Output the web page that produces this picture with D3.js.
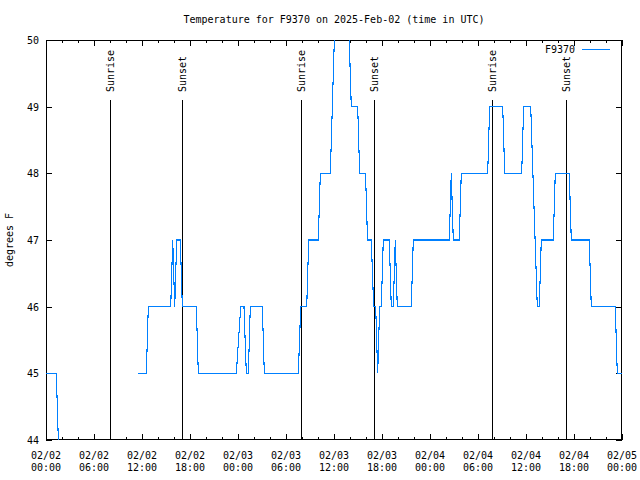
<!DOCTYPE html>
<html><head><meta charset="utf-8">
<script src="https://cdn.jsdelivr.net/npm/d3@7"></script>
<style>
body{margin:0;background:#fff;}
text{font-family:"DejaVu Sans Mono","Liberation Mono",monospace;font-size:10px;fill:#000;}
</style></head>
<body><svg id="c" width="640" height="480"></svg>
<script>
const title = "Temperature for F9370 on 2025-Feb-02 (time in UTC)";
const seriesName = "F9370";
const yLabel = "degrees F";
// hours since 2025-02-02 00:00 UTC
const hours = [0,1.29,1.54,1.6,11.54,12.54,12.79,15.59,15.84,16.09,16.34,16.79,17.04,18.79,19.04,23.79,24.34,24.75,25.04,25.29,25.54,27.04,27.29,31.54,31.84,32.59,32.84,34.04,34.29,35.54,36.04,36.29,37.66,38.16,38.96,39.21,39.94,40.19,40.66,40.96,41.21,41.46,41.71,41.91,42.16,42.91,43.16,43.41,43.66,43.91,45.66,45.91,50.41,50.66,50.91,51.66,51.91,55.21,55.46,57.09,57.34,59.46,59.71,60.59,61.41,61.66,61.91,63.41,63.66,65.41,65.66,67.91,68.16,71.16,71.41,72];
const temps = [45,45,44,null,45,45,46,46,47,46,47,47,46,46,45,45,46,46,45,45,46,46,45,45,46,46,47,47,48,48,50,51,51,49,49,48,48,47,47,46,46,45,46,46,47,47,46,46,47,46,46,47,47,48,47,47,48,48,49,49,48,48,49,49,46,46,47,47,48,48,47,47,46,46,45,45];
const sunriseHours = [8.04, 31.91, 55.79];
const sunsetHours = [17.04, 41.04, 65.04];
const yTicks = [44,45,46,47,48,49,50];

const base = Date.UTC(2025,1,2);
const H = 3600000;
const data = hours.map((h,i)=>({t:new Date(base+h*H), v:temps[i]}));

const L=46,R=622,T=40,B=440;
const svg = d3.select("#c");
const x = d3.scaleUtc().domain([new Date(base), new Date(base+72*H)]).range([L,R]);
const y = d3.scaleLinear().domain([44,50]).range([B,T]);

svg.append("defs").append("clipPath").attr("id","clip")
  .append("rect").attr("x",L).attr("y",T).attr("width",R-L).attr("height",B-T);

const g = svg.append("g").attr("shape-rendering","crispEdges");

// minor x ticks every 2h, major every 6h, bottom and top
const minor = d3.utcHour.every(2).range(new Date(base), new Date(base+72*H+1));
minor.forEach(d=>{
  const major = d.getUTCHours()%6===0;
  const len = major?6:3;
  const xx = Math.round(x(d))+0.5;
  g.append("line").attr("x1",xx).attr("x2",xx).attr("y1",B).attr("y2",B-len).attr("stroke","#000");
  g.append("line").attr("x1",xx).attr("x2",xx).attr("y1",T).attr("y2",T+len).attr("stroke","#000");
});
yTicks.forEach(v=>{
  const yy = Math.round(y(v))+0.5;
  g.append("line").attr("x1",L).attr("x2",L+6).attr("y1",yy).attr("y2",yy).attr("stroke","#000");
  g.append("line").attr("x1",R-6).attr("x2",R).attr("y1",yy).attr("y2",yy).attr("stroke","#000");
  svg.append("text").attr("x",L-7).attr("y",y(v)+4).attr("text-anchor","end").text(v);
});

// x labels
const majors = d3.utcHour.every(6).range(new Date(base), new Date(base+72*H+1));
const f1 = d3.utcFormat("%m/%d"), f2 = d3.utcFormat("%H:%M");
majors.forEach(d=>{
  svg.append("text").attr("x",x(d)).attr("y",459).attr("text-anchor","middle").text(f1(d));
  svg.append("text").attr("x",x(d)).attr("y",471).attr("text-anchor","middle").text(f2(d));
});

// sun lines
const sun = sunriseHours.map(h=>({h,l:"Sunrise"})).concat(sunsetHours.map(h=>({h,l:"Sunset"})));
sun.forEach(s=>{
  const xx = Math.round(x(new Date(base+s.h*H)))+0.5;
  g.append("line").attr("x1",xx).attr("x2",xx).attr("y1",y(49.1)).attr("y2",B).attr("stroke","#000");
  svg.append("text").attr("transform",`translate(${xx},92) rotate(-90)`).attr("dy","0.35em").text(s.l);
});

// data line
const line = d3.line().defined(d=>d.v!=null).x(d=>x(d.t)).y(d=>y(d.v));
svg.append("path").datum(data).attr("clip-path","url(#clip)")
  .attr("fill","none").attr("stroke","#0080ff").attr("stroke-width",1.1)
  .attr("shape-rendering","crispEdges")
  .attr("d",line);

// border
g.append("rect").attr("x",L+0.5).attr("y",T+0.5).attr("width",R-L-1).attr("height",B-T-1)
  .attr("fill","none").attr("stroke","#000");

// legend
svg.append("text").attr("x",575).attr("y",53).attr("text-anchor","end").text(seriesName);
g.append("line").attr("x1",582).attr("x2",610).attr("y1",49.5).attr("y2",49.5).attr("stroke","#0080ff");

// title & y label
svg.append("text").attr("x",(L+R)/2).attr("y",23).attr("text-anchor","middle").text(title);
svg.append("text").attr("transform",`translate(13,${(T+B)/2}) rotate(-90)`).attr("text-anchor","middle").text(yLabel);
</script></body></html>
